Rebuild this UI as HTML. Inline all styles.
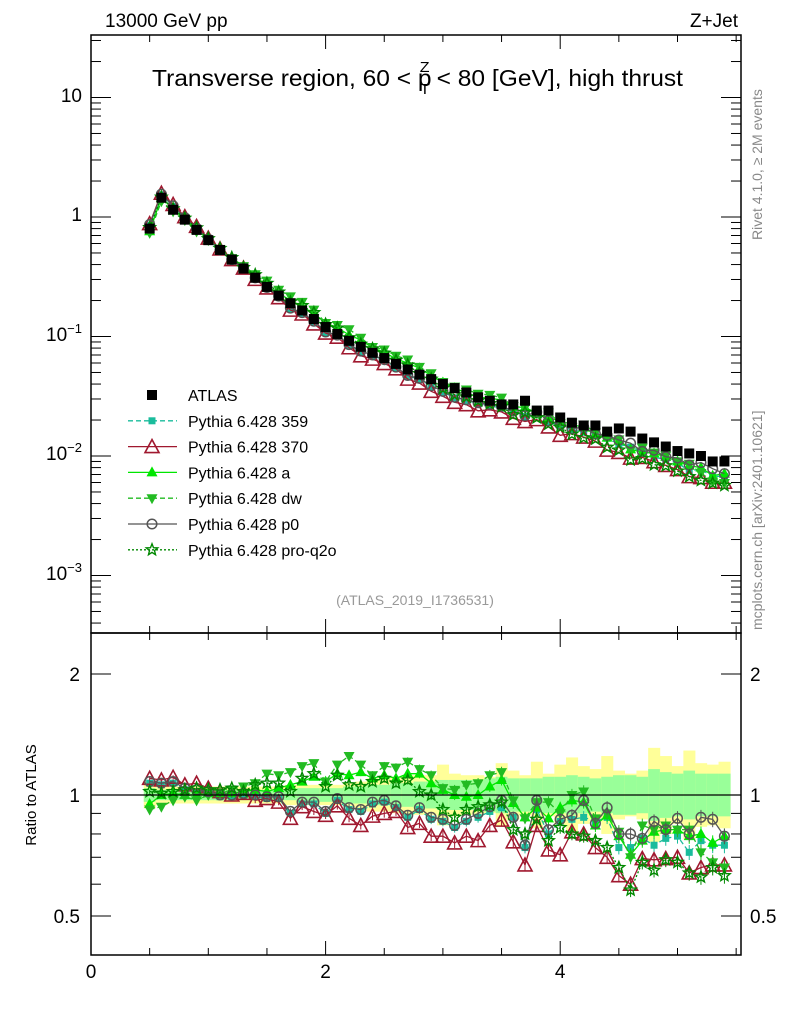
<!DOCTYPE html>
<html><head><meta charset="utf-8">
<style>
body{margin:0;background:#fff;}
svg{display:block;font-family:"Liberation Sans",sans-serif;}
</style></head>
<body>
<svg id="chart" width="786" height="1024" viewBox="0 0 786 1024" xmlns="http://www.w3.org/2000/svg">
<g id="bands"></g>
<g id="series"></g>
<g id="axes"></g>
<text x="105" y="27" font-size="19">13000 GeV pp</text>
<text x="738" y="27" font-size="19" text-anchor="end">Z+Jet</text>
<text x="152" y="86" font-size="23" textLength="531" lengthAdjust="spacingAndGlyphs">Transverse region, 60 &lt; p<tspan font-size="15" dy="-14" dx="-11">Z</tspan><tspan font-size="15" dy="22" dx="-9">T</tspan><tspan dy="-8"> &lt; 80 [GeV], high thrust</tspan></text>
<text x="415" y="605" font-size="14" fill="#999" text-anchor="middle">(ATLAS_2019_I1736531)</text>
<text transform="translate(762,240) rotate(-90)" font-size="14" fill="#888">Rivet 4.1.0, ≥ 2M events</text>
<text transform="translate(762,630) rotate(-90)" font-size="14" fill="#888">mcplots.cern.ch [arXiv:2401.10621]</text>
<text transform="translate(36,795) rotate(-90)" font-size="15" text-anchor="middle">Ratio to ATLAS</text>
<g id="legend"></g>
</svg>
<script>
const xVals=[];for(let i=0;i<50;i++)xVals.push(+(0.5+0.1*i).toFixed(2));
const atlas=[0.80,1.45,1.15,0.95,0.78,0.64,0.53,0.44,0.37,0.31,0.26,0.22,0.19,0.165,0.14,0.12,0.105,0.092,0.082,0.073,0.066,0.059,0.053,0.048,0.044,0.040,0.037,0.034,0.031,0.029,0.027,0.027,0.029,0.024,0.024,0.021,0.019,0.018,0.018,0.016,0.017,0.016,0.014,0.013,0.012,0.011,0.0105,0.010,0.009,0.009];
const r370=[1.10,1.09,1.107,1.06,1.07,1.04,1.02,1.0,1.01,0.97,0.98,0.96,0.875,0.935,0.91,0.89,0.94,0.875,0.84,0.886,0.90,0.91,0.83,0.85,0.79,0.79,0.76,0.79,0.77,0.84,0.866,0.765,0.67,0.84,0.73,0.71,0.81,0.80,0.74,0.70,0.63,0.60,0.695,0.69,0.695,0.70,0.64,0.66,0.67,0.67];
const rP0=[1.08,1.07,1.08,1.04,1.03,1.02,1.0,1.0,1.01,1.0,0.99,0.99,0.91,0.96,0.96,0.91,0.98,0.93,0.92,0.96,0.97,0.94,0.89,0.93,0.88,0.87,0.84,0.87,0.90,0.935,0.97,0.88,0.75,0.97,0.82,0.87,0.89,0.97,0.85,0.93,0.80,0.80,0.78,0.86,0.82,0.875,0.80,0.88,0.87,0.79];
const r359=[1.07,1.06,1.07,1.03,1.02,1.01,0.99,0.99,1.0,0.99,0.98,0.98,0.90,0.95,0.95,0.90,0.97,0.92,0.91,0.95,0.96,0.93,0.88,0.92,0.87,0.86,0.83,0.86,0.88,0.91,0.93,0.88,0.74,0.92,0.80,0.86,0.87,0.88,0.86,0.88,0.74,0.74,0.78,0.75,0.78,0.79,0.72,0.77,0.75,0.75];
const rA=[0.95,1.0,1.01,1.0,1.0,1.01,1.01,1.01,1.02,1.03,1.02,1.04,1.06,1.08,1.11,1.08,1.13,1.12,1.14,1.10,1.12,1.10,1.13,1.13,1.07,1.03,1.0,0.99,1.0,1.05,1.09,0.955,0.88,0.93,0.875,0.93,0.97,0.96,0.84,0.89,0.79,0.71,0.77,0.81,0.82,0.82,0.79,0.80,0.76,0.79];
const rDW=[0.92,0.935,0.97,0.99,0.97,1.0,1.01,1.03,1.05,1.07,1.13,1.12,1.14,1.18,1.20,1.08,1.19,1.25,1.19,1.12,1.18,1.17,1.21,1.16,1.12,1.04,1.03,1.06,1.07,1.12,1.14,0.97,0.875,0.96,0.96,0.90,1.0,1.02,0.875,0.90,0.81,0.70,0.84,0.82,0.84,0.82,0.82,0.72,0.68,0.66];
const rQ2o=[1.02,1.01,1.02,1.03,1.04,1.03,1.03,1.04,1.02,1.06,1.07,1.07,1.02,1.10,1.13,1.05,1.12,1.06,1.05,1.08,1.10,1.07,1.09,1.02,1.0,0.92,0.88,0.92,0.935,0.945,0.96,0.82,0.80,0.87,0.77,0.83,0.80,0.79,0.77,0.74,0.66,0.58,0.68,0.65,0.69,0.68,0.64,0.625,0.66,0.63];
const statErr=[0.04,0.03,0.03,0.03,0.03,0.03,0.03,0.03,0.03,0.03,0.03,0.03,0.03,0.04,0.04,0.04,0.04,0.05,0.05,0.06,0.06,0.07,0.07,0.08,0.08,0.09,0.09,0.09,0.09,0.10,0.11,0.10,0.10,0.10,0.11,0.11,0.12,0.11,0.10,0.11,0.12,0.12,0.11,0.16,0.14,0.13,0.15,0.13,0.13,0.13];
const totErr=[0.08,0.06,0.05,0.05,0.05,0.05,0.05,0.05,0.05,0.05,0.05,0.05,0.06,0.06,0.06,0.06,0.06,0.07,0.08,0.10,0.10,0.11,0.12,0.12,0.12,0.19,0.13,0.12,0.12,0.11,0.20,0.15,0.12,0.21,0.13,0.19,0.24,0.18,0.16,0.25,0.15,0.13,0.15,0.31,0.25,0.18,0.29,0.20,0.19,0.21];
const yTickMain=[10,1,0.1,0.01,0.001];
const yTickMainLabels=["10","1","10<sup>−1</sup>","10<sup>−2</sup>","10<sup>−3</sup>"];
const ratioTicks=[2,1,0.5];
const xTicks=[0,2,4];

const NS="http://www.w3.org/2000/svg";
const X0=91,X1=741,MT=35,MB=633,RB=955;
const xs=v=>X0+v*117.3;
const ym=v=>217-119.5*Math.log10(v);
const yr=v=>795-402*Math.log10(v);
function el(tag,attrs,parent){const e=document.createElementNS(NS,tag);for(const k in attrs)e.setAttribute(k,attrs[k]);parent.appendChild(e);return e;}
const bands=document.getElementById('bands'),ser=document.getElementById('series'),axes=document.getElementById('axes'),leg=document.getElementById('legend');

xVals.forEach((x,i)=>{
 const a=xs(x-0.05),w=117.3*0.1+0.3;
 const t=totErr[i],s=statErr[i];
 const by=el('rect',{x:a,y:yr(1+t),width:w,height:yr(1/(1+t))-yr(1+t),fill:'#ffff99'},bands);
 
 
 const bg=el('rect',{x:a,y:yr(1+s),width:w,height:yr(1/(1+s))-yr(1+s),fill:'#99ff99'},bands);
 
 
});

function marker(type,cx,cy,color,g){
 let m;
 if(type==='sq')m=el('rect',{x:cx-5,y:cy-5,width:10,height:10,fill:color},g);
 else if(type==='sqs')m=el('rect',{x:cx-3.5,y:cy-3.5,width:7,height:7,fill:color},g);
 else if(type==='tri')m=el('polygon',{points:`${cx},${cy-7} ${cx-7},${cy+6} ${cx+7},${cy+6}`,fill:'none',stroke:color,'stroke-width':1.6},g);
 else if(type==='trif')m=el('polygon',{points:`${cx},${cy-6} ${cx-5.5},${cy+4} ${cx+5.5},${cy+4}`,fill:color},g);
 else if(type==='tridn')m=el('polygon',{points:`${cx},${cy+6} ${cx-5.5},${cy-4} ${cx+5.5},${cy-4}`,fill:color},g);
 else if(type==='circ')m=el('circle',{cx,cy,r:4.8,fill:'none',stroke:color,'stroke-width':1.5},g);
 else if(type==='star'){let p=[];for(let k=0;k<10;k++){const r=k%2?2.6:6,a=-Math.PI/2+k*Math.PI/5;p.push((cx+r*Math.cos(a)).toFixed(1)+','+(cy+r*Math.sin(a)).toFixed(1));}m=el('polygon',{points:p.join(' '),fill:'none',stroke:color,'stroke-width':1.4},g);}
 return m;
}
const series=[
 {name:'Pythia 6.428 359',r:r359,color:'#1abc9c',m:'sqs',dash:'5,3',id:'359'},
 {name:'Pythia 6.428 370',r:r370,color:'#a0182f',m:'tri',dash:'',id:'370'},
 {name:'Pythia 6.428 a',r:rA,color:'#00e600',m:'trif',dash:'',id:'a'},
 {name:'Pythia 6.428 dw',r:rDW,color:'#22bb22',m:'tridn',dash:'5,3',id:'dw'},
 {name:'Pythia 6.428 p0',r:rP0,color:'#555555',m:'circ',dash:'',id:'p0'},
 {name:'Pythia 6.428 pro-q2o',r:rQ2o,color:'#008800',m:'star',dash:'2,2',id:'pro-q2o'}
];
const clipR=el('clipPath',{id:'cr'},document.getElementById('chart'));el('rect',{x:X0,y:MB,width:X1-X0,height:RB-MB},clipR);
series.forEach(s=>{
 const g=el('g',{},ser);
 
 
 const pm=xVals.map((x,i)=>xs(x).toFixed(1)+','+ym(atlas[i]*s.r[i]).toFixed(1)).join(' ');
 const lm=el('polyline',{points:pm,fill:'none',stroke:s.color,'stroke-width':1.3,'stroke-dasharray':s.dash},g);
 
 
 const gr=el('g',{'clip-path':'url(#cr)'},g);
 const pr=xVals.map((x,i)=>xs(x).toFixed(1)+','+yr(s.r[i]).toFixed(1)).join(' ');
 const lr=el('polyline',{points:pr,fill:'none',stroke:s.color,'stroke-width':1.3,'stroke-dasharray':s.dash},gr);
 
 
 xVals.forEach((x,i)=>{
  const e=0.01+0.035*i/49;
  el('line',{x1:xs(x),x2:xs(x),y1:yr(s.r[i]*(1+e)),y2:yr(s.r[i]*(1-e)),stroke:s.color,'stroke-width':1},gr);
  const a=marker(s.m,xs(x),ym(atlas[i]*s.r[i]),s.color,g);
  
  
  const b=marker(s.m,xs(x),yr(s.r[i]),s.color,gr);
  
  
 });
});
const ga=el('g',{},ser);


xVals.forEach((x,i)=>{
 const m=marker('sq',xs(x),ym(atlas[i]),'#000',ga);
 
 
});
const ref=el('line',{x1:X0,x2:X1,y1:yr(1),y2:yr(1),stroke:'#000','stroke-width':1.3},ser);



[[MT,MB],[MB,RB]].forEach(([t,b],k)=>{const r=el('rect',{x:X0,y:t,width:X1-X0,height:b-t,fill:'none',stroke:'#000','stroke-width':1.5},axes);
 });
for(let v=0;v<=5.5;v+=0.5){const x=xs(v),maj=Math.abs(v%2)<1e-6,L=maj?14:7;
 [[MT,1],[MB,-1],[MB,1],[RB,-1]].forEach(([y,d])=>el('line',{x1:x,x2:x,y1:y,y2:y+d*L,stroke:'#000','stroke-width':1},axes));}
xTicks.forEach(v=>{const t=el('text',{x:xs(v),y:978,'font-size':19,'text-anchor':'middle'},axes);t.textContent=v;
 });
for(let d=-4;d<=1;d++){for(let m=1;m<10;m++){const v=m*Math.pow(10,d),y=ym(v);if(y<MT||y>MB)continue;const L=m===1?20:10;
 el('line',{x1:X0,x2:X0+L,y1:y,y2:y,stroke:'#000','stroke-width':1},axes);el('line',{x1:X1,x2:X1-L,y1:y,y2:y,stroke:'#000','stroke-width':1},axes);}}
yTickMain.forEach((v,i)=>{const fo=el('foreignObject',{x:20,y:ym(v)-13,width:62,height:30},axes);
 
 fo.innerHTML='<div xmlns="http://www.w3.org/1999/xhtml" style="font:19px Liberation Sans,sans-serif;text-align:right;line-height:24px">'+yTickMainLabels[i].replace('<sup>','<sup style="font-size:13px;vertical-align:8px;line-height:0">')+'</div>';});
[0.5,0.6,0.7,0.8,0.9,1,2].forEach(v=>{const y=yr(v),L=(v===1||v===2||v===0.5)?20:10;
 el('line',{x1:X0,x2:X0+L,y1:y,y2:y,stroke:'#000','stroke-width':1},axes);el('line',{x1:X1,x2:X1-L,y1:y,y2:y,stroke:'#000','stroke-width':1},axes);});
ratioTicks.forEach(v=>{[[80,'end'],[750,'start']].forEach(([x,a])=>{const t=el('text',{x,y:yr(v)+7,'font-size':19,'text-anchor':a},axes);t.textContent=v;
 });});
const entries=[{name:'ATLAS',m:'sq',color:'#000',dash:null}].concat(series);
entries.forEach((s,i)=>{const y=395+25.8*i;const g=el('g',{},leg);
 
 if(s.dash!==null)el('line',{x1:128,x2:177,y1:y,y2:y,stroke:s.color,'stroke-width':1.3,'stroke-dasharray':s.dash},g);
 marker(s.m,152,y,s.color,g);
 const t=el('text',{x:188,y:y+6,'font-size':16},g);t.textContent=s.name;});
</script>
</body></html>
